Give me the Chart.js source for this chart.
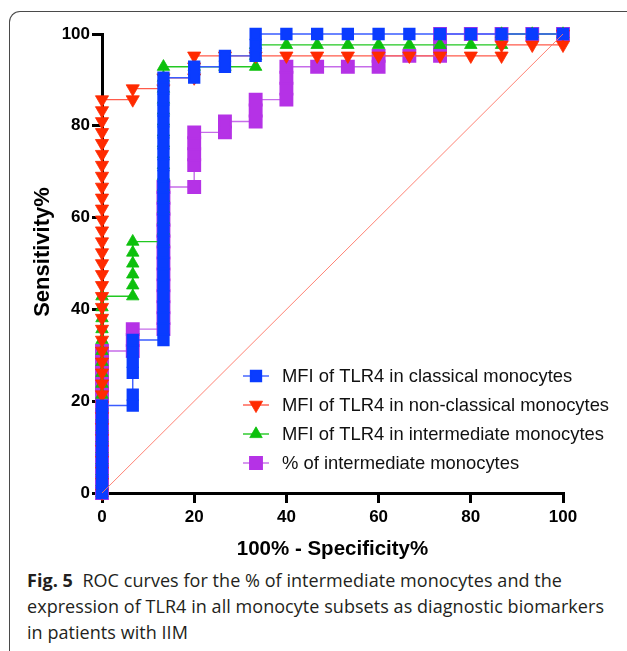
<!DOCTYPE html>
<html><head><meta charset="utf-8">
<script src="https://cdn.jsdelivr.net/npm/chart.js@4.4.1/dist/chart.umd.min.js"></script>
<style>
html,body{margin:0;padding:0;background:#fff;width:627px;height:651px;overflow:hidden;}
#frame{position:absolute;left:9px;top:11px;width:640px;height:660px;border-top:1.5px solid #4a4a4a;border-left:1.5px solid #4a4a4a;border-top-left-radius:11px;box-sizing:border-box;}
#c{position:absolute;left:0;top:0;}
#cap{position:absolute;left:27px;top:567px;font-family:'Open Sans',sans-serif;font-size:18px;line-height:26px;color:#231f20;white-space:nowrap;}
#cap .ln{display:table;}
</style></head>
<body>
<div id="frame"></div>
<canvas id="c" width="627" height="565"></canvas>
<div id="cap"><div class="ln" id="l1"><b>Fig. 5</b>&nbsp; ROC curves for the % of intermediate monocytes and the</div><div class="ln" id="l2">expression of TLR4 in all monocyte subsets as diagnostic biomarkers</div><div class="ln" id="l3">in patients with IIM</div></div>
<script>
// ---- data (100% - Specificity% , Sensitivity%) ----
const seriesLabels = [
  'MFI of TLR4 in classical monocytes',
  'MFI of TLR4 in non-classical monocytes',
  'MFI of TLR4 in intermediate monocytes',
  '% of intermediate monocytes'
];
const xTicks = [0, 20, 40, 60, 80, 100];
const yTicks = [0, 20, 40, 60, 80, 100];
const xTitle = '100% - Specificity%';
const yTitle = 'Sensitivity%';

const classicalFpr = [0,0,0,0,0,0,0,0,0,
  6.67,6.67,6.67,6.67,6.67,6.67,
  13.33,13.33,13.33,13.33,13.33,13.33,13.33,13.33,13.33,13.33,13.33,13.33,13.33,13.33,13.33,13.33,13.33,13.33,13.33,13.33,13.33,13.33,13.33,13.33,13.33,
  20,20, 26.67,26.67, 33.33,33.33,33.33,
  40,46.67,53.33,60,66.67,73.33,80,86.67,93.33,100];
const classicalSens = [0,2.38,4.76,7.14,9.52,11.9,14.29,16.67,19.05,
  19.05,21.43,26.19,28.57,30.95,33.33,
  33.33,35.71,38.1,40.48,42.86,45.24,47.62,50,52.38,54.76,57.14,59.52,61.9,64.29,66.67,69.05,71.43,73.81,76.19,78.57,80.95,83.33,85.71,88.1,90.48,
  90.48,92.86, 92.86,95.24, 95.24,97.62,100,
  100,100,100,100,100,100,100,100,100,100];

const nonClassicalFpr = [0,0,0,0,0,0,0,0,0,0,0,0,0,0,0,0,0,0,0,0,0,0,0,0,0,0,0,0,0,0,0,0,0,0,0,0,0,
  6.67,6.67, 13.33,13.33, 20,20,20,
  26.67,33.33,40,46.67,53.33,60,66.67,73.33,80,
  86.67,86.67, 93.33, 100,100];
const nonClassicalSens = [0,2.38,4.76,7.14,9.52,11.9,14.29,16.67,19.05,21.43,23.81,26.19,28.57,30.95,33.33,35.71,38.1,40.48,42.86,45.24,47.62,50,52.38,54.76,57.14,59.52,61.9,64.29,66.67,69.05,71.43,73.81,76.19,78.57,80.95,83.33,85.71,
  85.71,88.1, 88.1,90.48, 90.48,92.86,95.24,
  95.24,95.24,95.24,95.24,95.24,95.24,95.24,95.24,95.24,
  95.24,97.62, 97.62, 97.62,100];

const intermediateFpr = [0,0,0,0,0,0,0,0,0,0,0,0,0,0,0,0,0,0,0,
  6.67,6.67,6.67,6.67,6.67,6.67,
  13.33,13.33,13.33,13.33,13.33,13.33,13.33,13.33,13.33,13.33,13.33,13.33,13.33,13.33,13.33,13.33,13.33,
  20, 26.67, 33.33,33.33,33.33,
  40,46.67,53.33,60,66.67,73.33,80,
  86.67,86.67, 93.33, 100];
const intermediateSens = [0,2.38,4.76,7.14,9.52,11.9,14.29,16.67,19.05,21.43,23.81,26.19,28.57,30.95,33.33,35.71,38.1,40.48,42.86,
  42.86,45.24,47.62,50,52.38,54.76,
  54.76,57.14,59.52,61.9,64.29,66.67,69.05,71.43,73.81,76.19,78.57,80.95,83.33,85.71,88.1,90.48,92.86,
  92.86, 92.86, 92.86,95.24,97.62,
  97.62,97.62,97.62,97.62,97.62,97.62,97.62,
  97.62,100, 100, 100];

const percentFpr = [0,0,0,0,0,0,0,0,0,0,0,0,0,0,
  6.67,6.67,6.67,
  13.33,13.33,13.33,13.33,13.33,13.33,13.33,13.33,13.33,13.33,13.33,13.33,13.33,13.33,
  20,20,20,20,20, 26.67,26.67, 33.33,33.33,33.33, 40,40,40,40,
  46.67, 53.33, 60,60, 66.67, 73.33,73.33,73.33, 80, 86.67, 93.33, 100];
const percentSens = [0,2.38,4.76,7.14,9.52,11.9,14.29,16.67,19.05,21.43,23.81,26.19,28.57,30.95,
  30.95,33.33,35.71,
  35.71,38.1,40.48,42.86,45.24,47.62,50,52.38,54.76,57.14,59.52,61.9,64.29,66.67,
  66.67,71.43,73.81,76.19,78.57, 78.57,80.95, 80.95,83.33,85.71, 85.71,88.1,90.48,92.86,
  92.86, 92.86, 92.86,95.24, 95.24, 95.24,97.62,100, 100, 100, 100, 100];

const identityX = [0, 100];
const identityY = [0, 100];

// ---- styling ----
const FONT = "'Liberation Sans', Arial, Helvetica, sans-serif";
const toPts = (xs, ys) => xs.map((x, i) => ({x: x, y: ys[i]}));
const styles = [
  {fill:'#0a3cff', line:'#3a5cff', shape:'rect', rot:0, r:7.3, bw:2},
  {fill:'#ff2a00', line:'#ff5b4b', shape:'triangle', rot:180, r:7.6, bw:0.8},
  {fill:'#0cc00c', line:'#22c822', shape:'triangle', rot:0, r:7.2, bw:0.8},
  {fill:'#b532e6', line:'#c66ce9', shape:'rect', rot:0, r:8.4, bw:2}
];
const seriesX = [classicalFpr, nonClassicalFpr, intermediateFpr, percentFpr];
const seriesY = [classicalSens, nonClassicalSens, intermediateSens, percentSens];

const datasets = [{
  label: 'identity', data: toPts(identityX, identityY), showLine: true,
  borderColor: '#ff7565', borderWidth: 0.9, pointRadius: 0, clip: false
}];
seriesLabels.forEach((lab, i) => {
  const s = styles[i];
  datasets.push({
    label: lab, data: toPts(seriesX[i], seriesY[i]), showLine: true, fill: false,
    borderColor: s.line, borderWidth: 1.4,
    pointStyle: s.shape, pointRotation: s.rot, pointRadius: s.r,
    pointBackgroundColor: s.fill, pointBorderColor: s.fill, pointBorderWidth: s.bw,
    clip: false
  });
});

const deco = {
  id: 'deco',
  afterDraw(chart) {
    const ctx = chart.ctx, a = chart.chartArea;
    ctx.save();
    // axis titles
    ctx.fillStyle = '#000';
    ctx.textAlign = 'center'; ctx.textBaseline = 'middle';
    ctx.font = 'bold 20.5px ' + FONT;
    ctx.fillText(xTitle, (a.left + a.right) / 2, 549);
    ctx.save();
    ctx.translate(43, 252);
    ctx.rotate(-Math.PI / 2);
    ctx.font = 'bold 22px ' + FONT;
    ctx.fillText(yTitle, 0, 0);
    ctx.restore();
    // legend
    ctx.font = '18.4px ' + FONT;
    ctx.textAlign = 'left';
    seriesLabels.forEach((lab, i) => {
      const s = styles[i];
      const y = 376 + i * 29;
      ctx.strokeStyle = s.line; ctx.lineWidth = 1.4;
      ctx.beginPath(); ctx.moveTo(243, y); ctx.lineTo(269, y); ctx.stroke();
      ctx.fillStyle = s.fill; ctx.strokeStyle = s.fill; ctx.lineWidth = s.bw;
      Chart.helpers.drawPoint(ctx, {pointStyle: s.shape, rotation: s.rot, radius: s.r, borderWidth: s.bw}, 256, y);
      ctx.fillStyle = '#111';
      ctx.textBaseline = 'middle';
      ctx.fillText(lab, 282, y + 1);
    });
    ctx.restore();
  }
};

const axisCommon = (ticks) => ({
  type: 'linear', min: 0, max: 100,
  afterBuildTicks: sc => { sc.ticks = ticks.map(v => ({value: v})); },
  ticks: {font: {family: FONT, size: 17, weight: 'bold'}, color: '#000', maxRotation: 0},
  grid: {drawOnChartArea: false, drawTicks: true, tickLength: 10, lineWidth: 3, color: '#000'},
  border: {display: true, width: 3, color: '#000'}
});
const xAxis = axisCommon(xTicks); xAxis.ticks.padding = 4; xAxis.afterFit = s => { s.height = 72; };
const yAxis = axisCommon(yTicks); yAxis.ticks.padding = 2; yAxis.afterFit = s => { s.width = 102; };

new Chart(document.getElementById('c'), {
  type: 'scatter',
  data: {datasets},
  options: {
    responsive: false, animation: false, devicePixelRatio: 1,
    layout: {padding: {left: 0, top: 34, right: 64, bottom: 0}},
    scales: {x: xAxis, y: yAxis},
    plugins: {legend: {display: false}, tooltip: {enabled: false}}
  },
  plugins: [deco]
});

// caption width fitting
(function fit() {
  const l2 = document.getElementById('l2');
  const w = l2.getBoundingClientRect().width;
  const n = l2.textContent.length;
  const ls = (577 - w) / n;
  document.getElementById('cap').style.letterSpacing = ls.toFixed(3) + 'px';
})();
</script>
</body></html>
